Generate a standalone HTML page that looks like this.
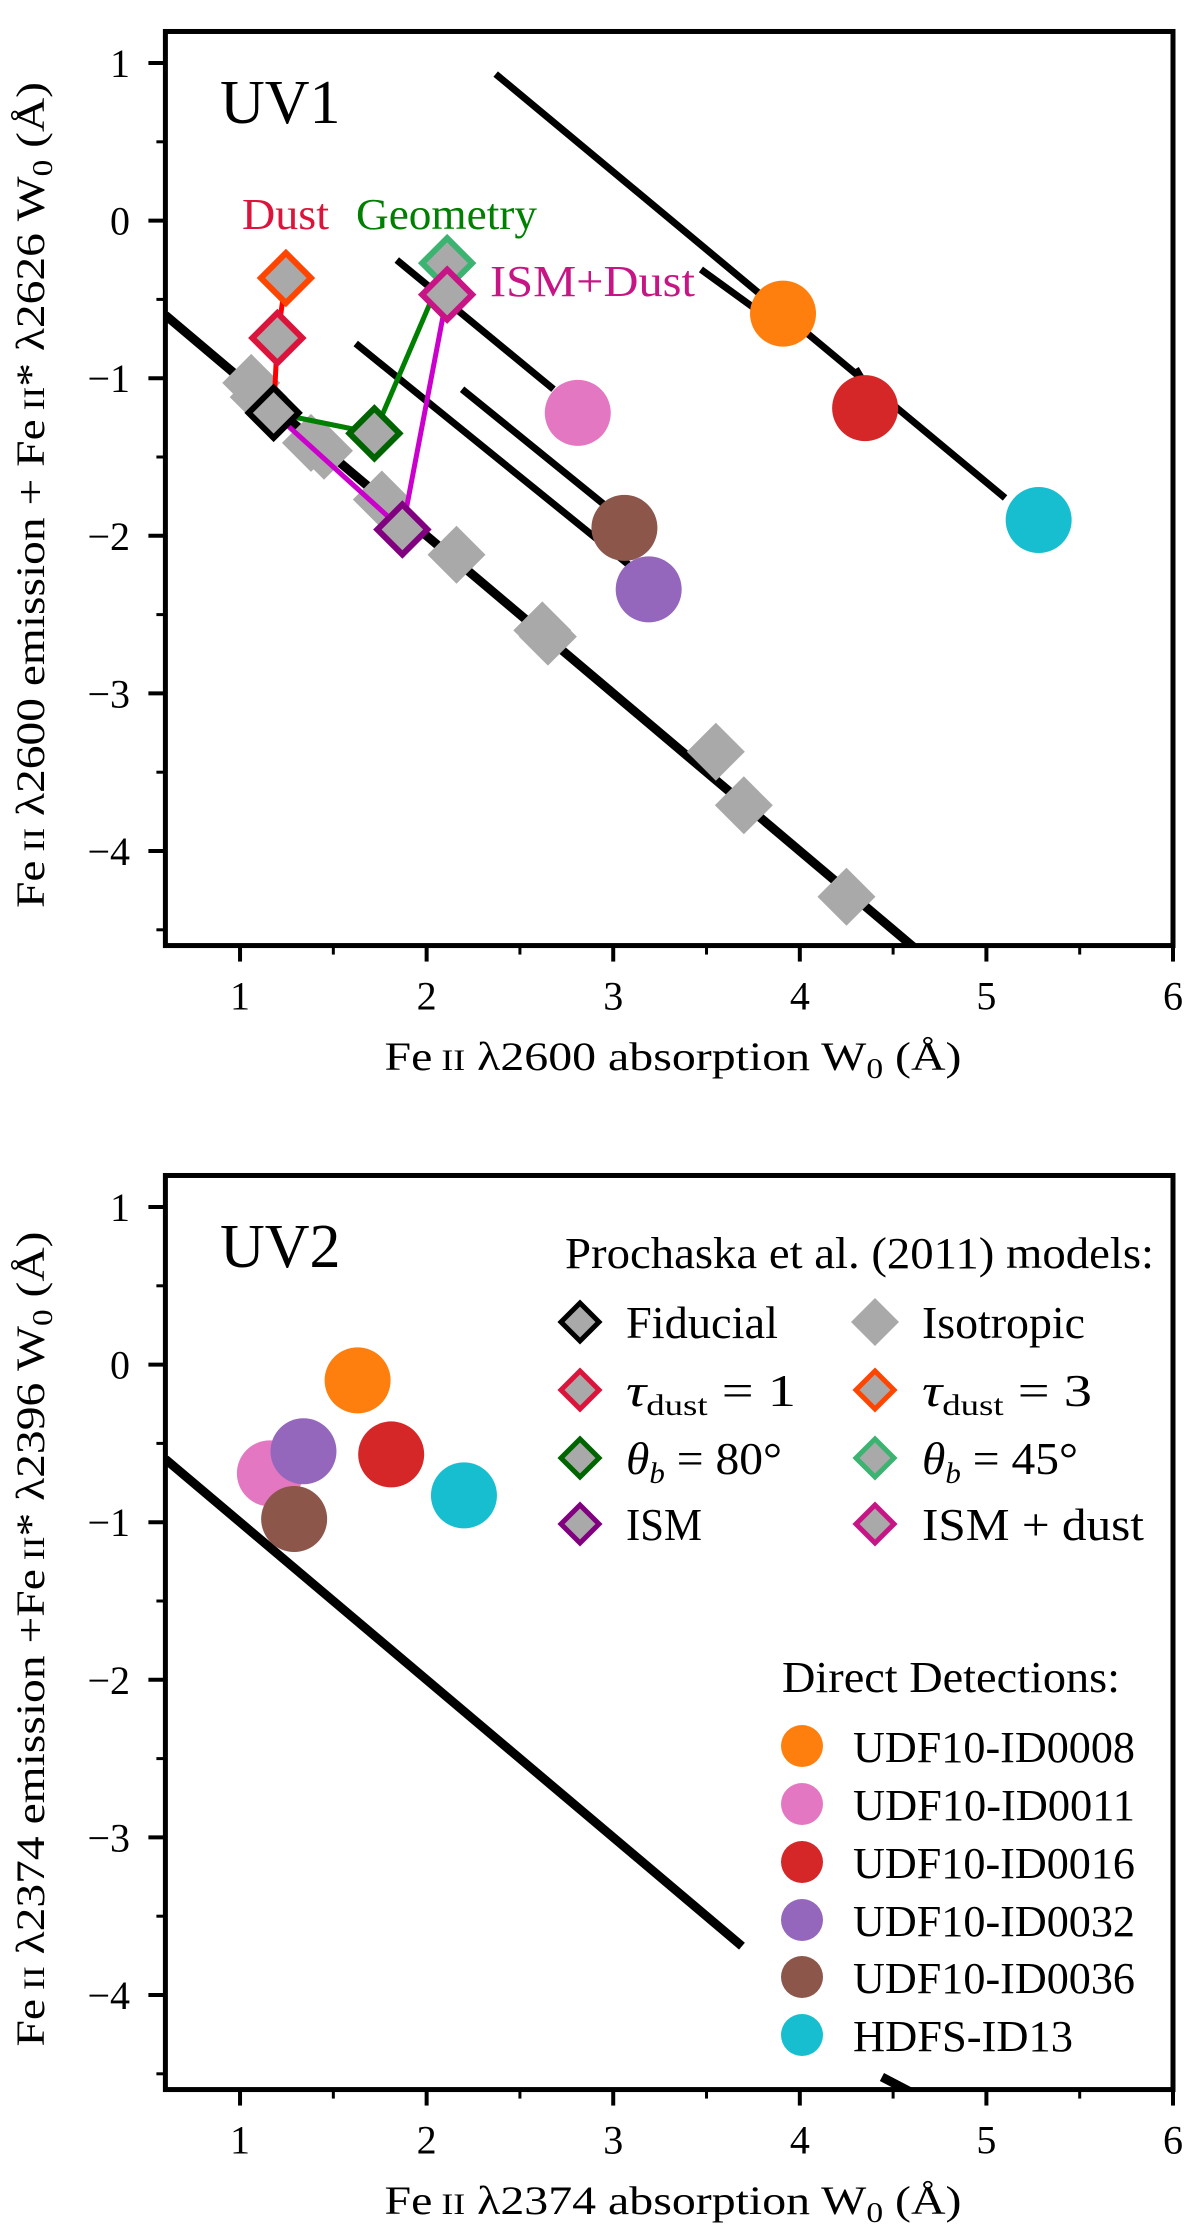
<!DOCTYPE html>
<html><head><meta charset="utf-8"><style>
html,body{margin:0;padding:0;background:#fff}
svg{display:block;font-family:"Liberation Serif",serif}
</style></head><body>
<svg id="fig" width="1200" height="2238" viewBox="0 0 1200 2238" xmlns="http://www.w3.org/2000/svg"></svg>
<script>
// ---- data (top panel UV1) ----
const isoX = [1.06, 1.10, 1.38, 1.45, 1.76, 2.16, 2.62, 2.65, 3.55, 3.70, 4.25];
const isoY = [-1.03, -1.12, -1.41, -1.46, -1.77, -2.12, -2.60, -2.64, -3.37, -3.71, -4.29];
const modelNames = ["fiducial", "tau-dust-1", "tau-dust-3", "theta-80", "theta-45", "ism", "ism-dust"];
const modelX = [1.18, 1.20, 1.246, 1.72, 2.11, 1.87, 2.11];
const modelY = [-1.22, -0.745, -0.364, -1.35, -0.27, -1.96, -0.47];
const modelColors = ["#000000", "#dc143c", "#ff4500", "#006400", "#3cb371", "#800080", "#c71585"];
const pathDustIdx = [0, 1, 2];
const pathGeomIdx = [0, 3, 4];
const pathIsmIdx = [0, 5, 6];
const detNames = ["UDF10-ID0008", "UDF10-ID0011", "UDF10-ID0016", "UDF10-ID0032", "UDF10-ID0036", "HDFS-ID13"];
const detColors = ["#ff7f0e", "#e377c2", "#d62728", "#9467bd", "#8c564b", "#17becf"];
const uv1DetX = [3.91, 2.81, 4.35, 3.19, 3.06, 5.28];
const uv1DetY = [-0.59, -1.22, -1.19, -2.34, -1.95, -1.90];
const uv1SegX1 = [2.37, 3.47, 4.30, 1.84, 1.62, 2.19];
const uv1SegY1 = [0.93, -0.31, -0.94, -0.25, -0.78, -1.07];
const uv1SegX2 = [5.10, 3.75, 4.33, 2.68, 3.11, 2.96];
const uv1SegY2 = [-1.76, -0.55, -1.00, -1.07, -2.21, -1.81];
const mainX = [0.6, 4.65];
const mainY = [-0.6, -4.65];
// ---- data (bottom panel UV2) ----
const uv2DetX = [1.63, 1.16, 1.81, 1.34, 1.29, 2.20];
const uv2DetY = [-0.10, -0.69, -0.57, -0.55, -0.98, -0.83];
const uv2LineX = [0.6, 3.69, 4.44, 4.65];
const uv2LineY = [-0.6, -3.69, -4.52, -4.65];
// ---- axes ----
const xTicks = [1, 2, 3, 4, 5, 6];
const xTickLabels = ["1", "2", "3", "4", "5", "6"];
const yTicks = [1, 0, -1, -2, -3, -4];
const yTickLabels = ["1", "0", "\u22121", "\u22122", "\u22123", "\u22124"];
const xMin = 0.6, xMax = 6, yMin = -4.6, yMax = 1.2;

const NS = "http://www.w3.org/2000/svg";
const svg = document.getElementById("fig");
function mk(tag, attrs, parent) {
  const e = document.createElementNS(NS, tag);
  for (const k in attrs) e.setAttribute(k, attrs[k]);
  (parent || svg).appendChild(e);
  return e;
}
const L = 165.4, R = 1173;
function sx(v) { return L + (v - xMin) * (R - L) / (xMax - xMin); }
function makeSy(y1px) { return v => y1px + (1 - v) * 157.6; }

function diamond(g, cx, cy, d, fill, stroke, sw) {
  const p = `${cx},${cy - d} ${cx + d},${cy} ${cx},${cy + d} ${cx - d},${cy}`;
  return mk("polygon", { points: p, fill: fill, stroke: stroke || "none", "stroke-width": sw || 0 }, g);
}

function axes(sy, top, bottom, panelName) {
  const g = mk("g", {});
  
  
  for (let i = 0; i < xTicks.length; i++) {
    const x = sx(xTicks[i]);
    mk("line", { x1: x, x2: x, y1: bottom, y2: bottom + 16, stroke: "#000", "stroke-width": 4 }, g);
    const t = mk("text", { x: x, y: bottom + 64, "font-size": 40, "text-anchor": "middle" }, g);
    
    
    t.textContent = xTickLabels[i];
  }
  for (let v = 1.5; v < 6; v += 1) {
    const x = sx(v);
    mk("line", { x1: x, x2: x, y1: bottom, y2: bottom + 9, stroke: "#000", "stroke-width": 3 }, g);
  }
  for (let i = 0; i < yTicks.length; i++) {
    const y = sy(yTicks[i]);
    mk("line", { x1: L - 17, x2: L, y1: y, y2: y, stroke: "#000", "stroke-width": 4 }, g);
    const t = mk("text", { x: 130, y: y + 14, "font-size": 40, "text-anchor": "end" }, g);
    
    
    t.textContent = yTickLabels[i];
  }
  for (let v = 0.5; v > -4.6; v -= 1) {
    const y = sy(v);
    mk("line", { x1: L - 9, x2: L, y1: y, y2: y, stroke: "#000", "stroke-width": 3 }, g);
  }
  return g;
}

function frame(top, bottom, name) {
  const r = mk("rect", { x: L, y: top, width: R - L, height: bottom - top, fill: "none", stroke: "#000", "stroke-width": 5 });
  
  
}

function clipFor(id, top, bottom) {
  const defs = mk("defs", {});
  const cp = mk("clipPath", { id: id }, defs);
  mk("rect", { x: L, y: top, width: R - L, height: bottom - top }, cp);
}

function addLabel(x, y, html, size, len, rot, name) {
  const attrs = { x: x, y: y, "font-size": size, "text-anchor": "middle", textLength: len, lengthAdjust: "spacingAndGlyphs" };
  if (rot) attrs.transform = `rotate(-90 ${x} ${y})`;
  const t = mk("text", attrs);
  
  
  t.innerHTML = html;
  return t;
}

// ================= TOP PANEL =================
(function () {
  const sy = makeSy(63);
  const top = sy(yMax), bottom = sy(yMin);
  clipFor("c1", top, bottom);
  const plot = mk("g", { "clip-path": "url(#c1)" });
  
  
  const ml = mk("line", { x1: sx(mainX[0]), y1: sy(mainY[0]), x2: sx(mainX[1]), y2: sy(mainY[1]), stroke: "#000", "stroke-width": 9 }, plot);
  
  
  for (let i = 0; i < uv1SegX1.length; i++) {
    const s = mk("line", { x1: sx(uv1SegX1[i]), y1: sy(uv1SegY1[i]), x2: sx(uv1SegX2[i]), y2: sy(uv1SegY2[i]), stroke: "#000", "stroke-width": 7 }, plot);
    
    
  }
  for (let i = 0; i < isoX.length; i++) {
    const d = diamond(plot, sx(isoX[i]), sy(isoY[i]), 29, "#a9a9a9");
    
    
  }
  const paths = [[pathDustIdx, "#ff0000", "dust-path"], [pathGeomIdx, "#008000", "geometry-path"], [pathIsmIdx, "#cc00cc", "ism-path"]];
  for (const [idx, col, nm] of paths) {
    const pts = idx.map(k => sx(modelX[k]) + "," + sy(modelY[k])).join(" ");
    const pl = mk("polyline", { points: pts, fill: "none", stroke: col, "stroke-width": 5 }, plot);
    
    
  }
  for (let i = 0; i < modelX.length; i++) {
    const d = diamond(plot, sx(modelX[i]), sy(modelY[i]), 25, "#a9a9a9", modelColors[i], 6);
    
    
  }
  for (let i = 0; i < uv1DetX.length; i++) {
    const c = mk("circle", { cx: sx(uv1DetX[i]), cy: sy(uv1DetY[i]), r: 33, fill: detColors[i] }, plot);
    
    
  }
  frame(top, bottom, "uv1");
  axes(sy, top, bottom, "uv1");
  const t1 = mk("text", { x: 220, y: 123, "font-size": 62 });
  
  
  t1.textContent = "UV1";
  const a1 = mk("text", { x: 242, y: 229, "font-size": 44, fill: "#dc143c", textLength: 87, lengthAdjust: "spacingAndGlyphs" });
  
  
  a1.textContent = "Dust";
  const a2 = mk("text", { x: 356, y: 229, "font-size": 44, fill: "#008000", textLength: 181, lengthAdjust: "spacingAndGlyphs" });
  
  
  a2.textContent = "Geometry";
  const a3 = mk("text", { x: 490, y: 296, "font-size": 44, fill: "#c71585", textLength: 205, lengthAdjust: "spacingAndGlyphs" });
  
  
  a3.textContent = "ISM+Dust";
  addLabel(673, 1070, 'Fe<tspan font-size="30"> II</tspan> λ2600 absorption W<tspan font-size="28" dy="8">0</tspan><tspan dy="-8"> (Å)</tspan>', 40, 577, false, "uv1-x-axis-title");
  addLabel(44, 495, 'Fe<tspan font-size="30"> II</tspan> λ2600 emission + Fe<tspan font-size="30"> II</tspan>* λ2626 W<tspan font-size="28" dy="8">0</tspan><tspan dy="-8"> (Å)</tspan>', 40, 826, true, "uv1-y-axis-title");
})();

// ================= BOTTOM PANEL =================
(function () {
  const sy = makeSy(1207);
  const top = sy(yMax), bottom = sy(yMin);
  clipFor("c2", top, bottom);
  const plot = mk("g", { "clip-path": "url(#c2)" });
  
  
  for (let i = 0; i < uv2LineX.length; i += 2) {
    const s = mk("line", { x1: sx(uv2LineX[i]), y1: sy(uv2LineY[i]), x2: sx(uv2LineX[i + 1]), y2: sy(uv2LineY[i + 1]), stroke: "#000", "stroke-width": 9 }, plot);
    
    
  }
  for (let i = 0; i < uv2DetX.length; i++) {
    const c = mk("circle", { cx: sx(uv2DetX[i]), cy: sy(uv2DetY[i]), r: 33, fill: detColors[i] }, plot);
    
    
  }
  frame(top, bottom, "uv2");
  axes(sy, top, bottom, "uv2");
  const t2 = mk("text", { x: 220, y: 1267, "font-size": 62 });
  
  
  t2.textContent = "UV2";

  const lg = mk("g", {});
  
  
  const h = mk("text", { x: 565, y: 1268, "font-size": 44, textLength: 589, lengthAdjust: "spacingAndGlyphs" }, lg);
  
  
  h.textContent = "Prochaska et al. (2011) models:";
  const legRowsY = [1322, 1390, 1458, 1524];
  const legItems = [
    [0, 0, "#000000", 'Fiducial', 152],
    [1, 0, null, 'Isotropic', 163],
    [0, 1, "#dc143c", '<tspan font-style="italic">τ</tspan><tspan font-size="30" dy="9">dust</tspan><tspan dy="-9"> = 1</tspan>', 170],
    [1, 1, "#ff4500", '<tspan font-style="italic">τ</tspan><tspan font-size="30" dy="9">dust</tspan><tspan dy="-9"> = 3</tspan>', 170],
    [0, 2, "#006400", '<tspan font-style="italic">θ</tspan><tspan font-size="30" font-style="italic" dy="9">b</tspan><tspan dy="-9"> = 80°</tspan>', 156],
    [1, 2, "#3cb371", '<tspan font-style="italic">θ</tspan><tspan font-size="30" font-style="italic" dy="9">b</tspan><tspan dy="-9"> = 45°</tspan>', 156],
    [0, 3, "#800080", 'ISM', 76],
    [1, 3, "#c71585", 'ISM + dust', 222]
  ];
  for (const [col, row, color, label, w] of legItems) {
    const mx = col ? 875 : 580, tx = col ? 922 : 626, y = legRowsY[row];
    const d = color ? diamond(lg, mx, y, 19, "#a9a9a9", color, 5) : diamond(lg, mx, y, 24, "#a9a9a9");
    
    
    const t = mk("text", { x: tx, y: y + 16, "font-size": 46, textLength: w, lengthAdjust: "spacingAndGlyphs" }, lg);
    
    
    t.innerHTML = label;
  }
  const dg = mk("g", {});
  
  
  const dh = mk("text", { x: 782, y: 1692, "font-size": 44, textLength: 338, lengthAdjust: "spacingAndGlyphs" }, dg);
  
  
  dh.textContent = "Direct Detections:";
  const detRowsY = [1746, 1804, 1862, 1920, 1977, 2035];
  const detW = [282, 282, 282, 282, 282, 220];
  for (let i = 0; i < detNames.length; i++) {
    const c = mk("circle", { cx: 802, cy: detRowsY[i], r: 21, fill: detColors[i] }, dg);
    
    
    const t = mk("text", { x: 853, y: detRowsY[i] + 16, "font-size": 44, textLength: detW[i], lengthAdjust: "spacingAndGlyphs" }, dg);
    
    
    t.textContent = detNames[i];
  }
  addLabel(673, 2214, 'Fe<tspan font-size="30"> II</tspan> λ2374 absorption W<tspan font-size="28" dy="8">0</tspan><tspan dy="-8"> (Å)</tspan>', 40, 577, false, "uv2-x-axis-title");
  addLabel(44, 1639, 'Fe<tspan font-size="30"> II</tspan> λ2374 emission +Fe<tspan font-size="30"> II</tspan>* λ2396 W<tspan font-size="28" dy="8">0</tspan><tspan dy="-8"> (Å)</tspan>', 40, 815, true, "uv2-y-axis-title");
})();
</script>
</body></html>
